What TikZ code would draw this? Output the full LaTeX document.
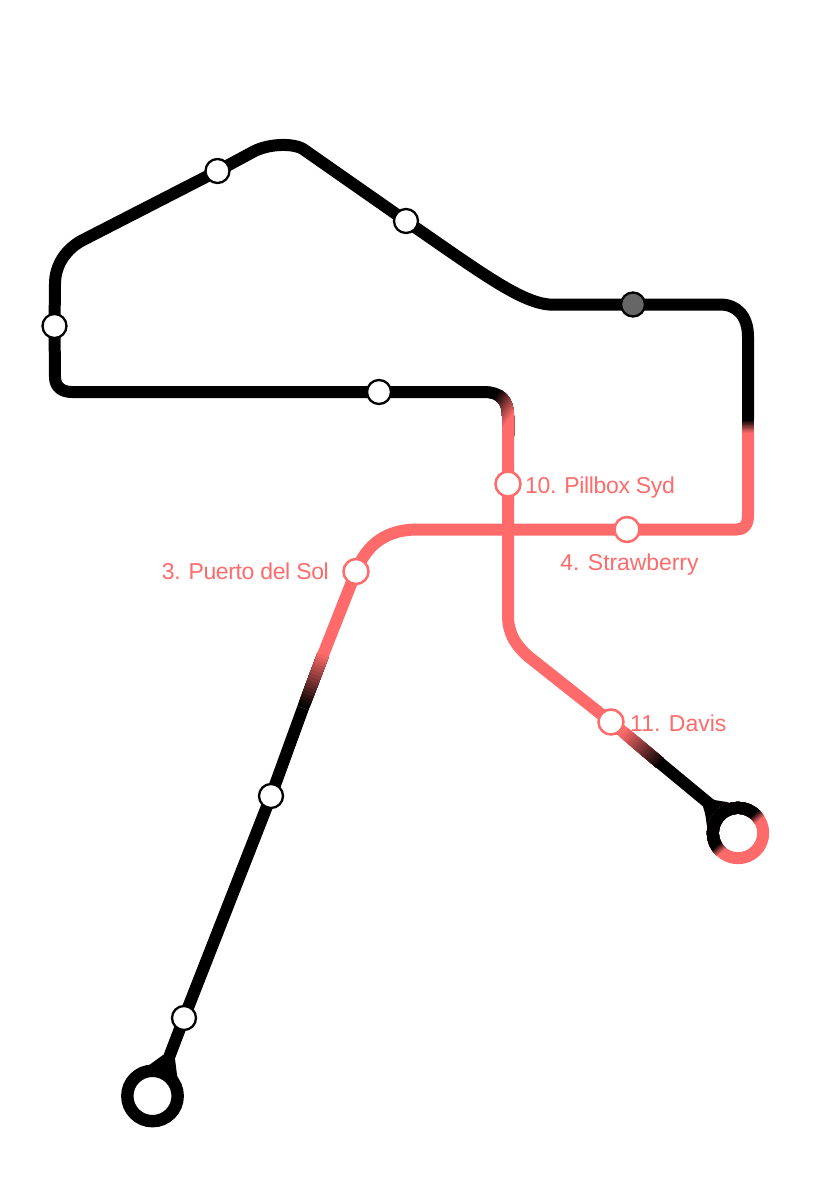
\documentclass[tikz,border=0pt]{standalone}
\usepackage{fontspec}
\setmainfont{Liberation Sans}
\definecolor{linered}{HTML}{FF6B6B}
\definecolor{stopgrey}{HTML}{666666}
\tikzset{
  x=1pt,y=-1pt,
  track/.style={line width=12pt,line cap=butt,line join=round},
  stopblack/.style={circle,draw=black,line width=2.3pt,fill=white,minimum size=24pt,inner sep=0pt},
  stopred/.style={circle,draw=linered,line width=2.5pt,fill=white,minimum size=25pt,inner sep=0pt},
  stopdark/.style={circle,draw=black,line width=2.3pt,fill=stopgrey,minimum size=24pt,inner sep=0pt},
  stoplabel/.style={text=linered,font=\fontsize{23}{27}\selectfont,inner sep=0pt},
  ring/.style={circle,line width=12.4pt,fill=none,minimum size=50.4pt,inner sep=0pt},
}
% #1 path, #2 x1, #3 y1, #4 x2, #5 y2, #6 start colour, #7 end colour
\newcommand\gradtrack[7]{%
  \draw[track,#6] #1;
  \pgfmathsetmacro\gang{atan2(#5-(#3),#4-(#2))}%
  \foreach \i in {1,...,16}{%
    \pgfmathsetmacro\gx{#2+(#4-(#2))*\i/16}%
    \pgfmathsetmacro\gy{#3+(#5-(#3))*\i/16}%
    \pgfmathsetmacro\gp{100-100*\i/16}%
    \begin{scope}
      \clip (\gx,\gy) ++(\gang+90:200) -- ++(\gang:200) -- ++(\gang-90:400) -- ++(\gang+180:200) -- cycle;
      \draw[track,color=#6!\gp!#7] #1;
    \end{scope}
  }%
}
\begin{document}
\begin{tikzpicture}
\useasboundingbox (0,0) rectangle (820,1177);
% stations
\coordinate (termA) at (152.5,1096);
\coordinate (termB) at (738,833);
\coordinate (a1) at (184,1018);
\coordinate (a2) at (271,796);
\coordinate (a3) at (356,571.5);
\coordinate (a4) at (627,529.5);
\coordinate (a5) at (633,304.5);
\coordinate (a6) at (406,221);
\coordinate (a7) at (217.5,171);
\coordinate (a8) at (54.5,326);
\coordinate (a9) at (379,392);
\coordinate (a10) at (508,484);
\coordinate (a11) at (611,722);
% route points
\coordinate (gA1) at (323,655);
\coordinate (gA2) at (303,708);
\coordinate (gB1) at (748,434);
\coordinate (gB2) at (748,419);
\coordinate (gD1) at (622,731);
\coordinate (gD2) at (660,763);
% black line, first part
\draw[track,black] (168,1060) -- (a1) -- (a2) -- (gA2);
\gradtrack{(gA2) -- (gA1)}{303}{708}{323}{655}{black}{linered}
% red part of the line
\draw[track,linered] (gA1) -- (a3)
  .. controls (367,543) and (388,529.5) .. (417,529.5)
  -- (a4) -- (737,529.5)
  .. controls (744,529.5) and (748,525) .. (748,515) -- (gB1);
\gradtrack{(gB1) -- (gB2)}{748}{433}{748}{420}{linered}{black}
\draw[track,black] (gB2) -- (748,337)
  .. controls (748,316) and (737,304.5) .. (720,304.5)
  -- (a5) -- (549,304.5)
  .. controls (520,302) and (480,272) .. (a6)
  -- (303,149)
  .. controls (293,143) and (267,143) .. (250,153.5)
  -- (a7) -- (83,240)
  .. controls (66,248.75) and (55,265) .. (55,284)
  -- (a8) -- (55,377)
  .. controls (55,387) and (62,392) .. (72,392)
  -- (a9) -- (484,392);
\gradtrack{(484,392) .. controls (500,392) and (508,400) .. (508,416) -- (508,436)}{495}{395}{515.3}{409.5}{black}{linered}
\draw[track,linered] (508,435) -- (508,615)
  .. controls (508,632) and (514,644) .. (529,657)
  -- (a11) -- (gD1);
\gradtrack{(gD1) -- (gD2)}{622}{731}{660}{763}{linered}{black}
\draw[track,black] (gD2) -- (712,806);
% terminals
\fill[black] (163,1055) -- (145,1068) -- (165,1076) -- (180,1084)
  -- (177,1075) -- (175,1059) -- cycle;
\node[ring,draw=black] (ta) at (termA) {};
\fill[black] (708.3,798.3) .. controls (713,800) and (720,801) .. (727,802)
  -- (735,805) -- (716,822) -- (708,829) -- (706.7,825)
  .. controls (706,818) and (705,812) .. (703,806.7) -- cycle;
\gradtrack{(termB) circle (25.2)}{741}{836.5}{735.5}{830}{linered}{black}
\node[stopblack] (n1) at (a1) {};
\node[stopblack] (n2) at (a2) {};
\node[stopred] (n3) at (a3) {};
\node[stopred] (n4) at (a4) {};
\node[stopdark] (n5) at (a5) {};
\node[stopblack] (n6) at (a6) {};
\node[stopblack] (n7) at (a7) {};
\node[stopblack] (n8) at (a8) {};
\node[stopblack] (n9) at (a9) {};
\node[stopred] (n10) at (a10) {};
\node[stopred] (n11) at (a11) {};
\node[stoplabel,anchor=base east] (l3) at (329,579.5) {\addfontfeature{LetterSpace=-1.7}3. Puerto del Sol};
\node[stoplabel,anchor=base] (l4) at (629.5,570) {\addfontfeature{LetterSpace=-0.3}4. Strawberry};
\node[stoplabel,anchor=base west] (l10) at (525,493) {\addfontfeature{LetterSpace=-1.6}10. Pillbox Syd};
\node[stoplabel,anchor=base west] (l11) at (630,731) {11. Davis};
\end{tikzpicture}
\end{document}
